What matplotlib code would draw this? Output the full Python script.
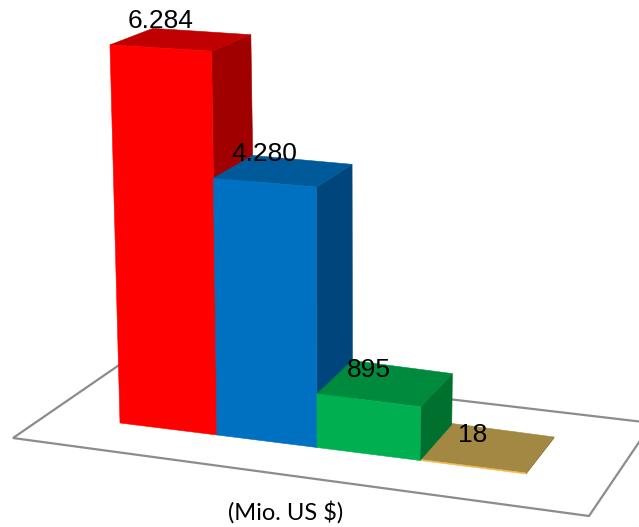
import matplotlib
matplotlib.use("Agg")
import matplotlib.pyplot as plt
from matplotlib.patches import Polygon

valores = [6284, 4280, 895, 18]
etiquetas = ["6.284", "4.280", "895", "18"]
unidad = "(Mio. US $)"

color_frente = ["#FF0000", "#0070C0", "#00B050", "#F2B84B"]
color_techo = ["#C00000", "#005A9A", "#008A3E", "#A38844"]
color_lado = ["#A00000", "#00467C", "#00702F", "#806830"]


def proyectar(i, s, fondo, h):
    # i: barra, s: posicion sobre el eje de categorias, fondo: 0 frente / 1 atras, h: valor
    x = 120 + 97 * s + 1.5 * s * (s - 1)
    y = 423 + 12 * s + 0.25 * s * (s - 1)
    x = x - h * (330 - x) * 7.6e-6
    alto = 0.0611 * h - 3 + (s - i - 0.5) * 0.0009 * h
    y = y - max(alto, 0.06 * h)
    x = x + fondo * (43 - 3.75 * s)
    y = y - fondo * (36 - 0.0031 * h)
    return (x, y)


def cara(ax, puntos, color, orden):
    ax.add_patch(Polygon(puntos, closed=True, facecolor=color, edgecolor=color,
                         linewidth=0.4, zorder=orden))


def barra(ax, i, h, orden):
    a = proyectar(i, i, 0, h)
    b = proyectar(i, i + 1, 0, h)
    c = proyectar(i, i + 1, 1, h)
    d = proyectar(i, i, 1, h)
    b0 = proyectar(i, i + 1, 0, 0)
    a0 = proyectar(i, i, 0, 0)
    c0 = proyectar(i, i + 1, 1, 0)
    cara(ax, [b, c, c0, b0], color_lado[i], orden)
    cara(ax, [a, b, c, d], color_techo[i], orden)
    cara(ax, [a, b, b0, a0], color_frente[i], orden)


fig = plt.figure(figsize=(6.39, 5.27), dpi=100)
ax = fig.add_axes([0, 0, 1, 1])
ax.set_xlim(0, 639)
ax.set_ylim(527, 0)
ax.axis("off")

# piso del grafico
piso = [(13, 438), (125, 361), (652, 423), (589, 516)]
ax.add_patch(Polygon(piso, closed=True, facecolor="white", edgecolor="#8C8C8C",
                     linewidth=1.6, zorder=1))

# la ultima barra va primero porque queda detras de la verde
barra(ax, 3, valores[3], 2)
barra(ax, 0, valores[0], 3)
barra(ax, 1, valores[1], 4)
barra(ax, 2, valores[2], 5)

for i in range(len(valores)):
    x, y = proyectar(i, i + 0.5, 0, valores[i])
    ax.text(x, y - 24 + valores[i] * 0.0006, etiquetas[i], family="Liberation Sans",
            fontsize=19, color="black", ha="center", va="baseline", zorder=6)

ax.text(286, 520, unidad, family="Lato", fontsize=17, color="black",
        ha="center", va="baseline", zorder=6)

fig.savefig("out.png", dpi=100)
